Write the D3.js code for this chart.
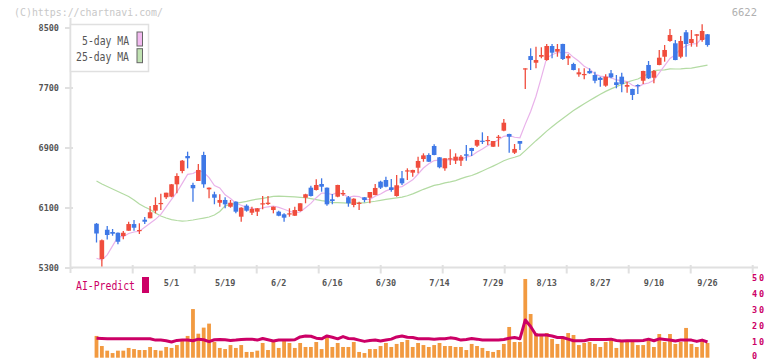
<!DOCTYPE html>
<html>
<head>
<meta charset="utf-8">
<script src="https://cdn.jsdelivr.net/npm/d3@7/dist/d3.min.js"></script>
<style>
body { margin: 0; background: #fff; }
svg { display: block; }
text { font-family: "DejaVu Sans Mono", monospace; }
</style>
</head>
<body>
<div id="chart"></div>
<script>
// ----------------------- daily prices (one entry per trading day)
var opens = [5890,5420,5810,5780,5770,5726,5797,5886,5793,5944,
  5963,6064,6153,6243,6251,6416,6593,6793,6407,6460,
  6807,6349,6283,6170,6207,6117,6184,5984,6131,6037,
  6051,6149,6153,6073,6051,6016,6016,5997,6060,6237,
  6371,6340,6420,6371,6216,6251,6283,6243,6140,6157,
  6243,6237,6273,6451,6473,6376,6260,6496,6589,6571,
  6637,6753,6807,6927,6776,6629,6749,6731,6731,6816,
  6900,6931,6997,6997,6917,7043,7131,7087,6837,6993,
  7955,8126,8037,8117,8073,8260,8184,8287,8096,8020,
  7882,7873,7927,7873,7837,7731,7896,7776,7851,7717,
  7687,7740,7797,8007,7837,8007,8117,8327,8296,8117,
  8443,8300,8397,8340,8416];
var highs = [5900,5680,5860,5820,5775,5793,5917,5940,5896,5980,
  6127,6243,6291,6304,6420,6562,6740,6851,6437,6687,
  6851,6375,6317,6283,6243,6207,6190,6110,6149,6117,
  6100,6260,6260,6120,6064,6029,6096,6117,6165,6290,
  6397,6483,6496,6375,6287,6410,6340,6260,6230,6184,
  6245,6315,6420,6464,6517,6487,6540,6593,6629,6610,
  6784,6829,6829,6949,6780,6765,6883,6829,6807,6940,
  6905,7010,7109,7060,6995,7073,7287,7090,6953,6995,
  7965,8229,8251,8243,8287,8287,8287,8290,8149,8037,
  7962,7962,7962,7917,7851,7882,7940,7873,7904,7784,
  7690,7749,7930,8060,7940,8207,8273,8487,8340,8393,
  8473,8473,8420,8549,8420];
var lows = [5640,5320,5680,5730,5616,5683,5797,5797,5753,5886,
  5963,6029,6073,6220,6243,6296,6562,6629,6184,6460,
  6371,6229,6150,6117,6096,6104,6029,5917,6051,6007,
  5993,6083,6140,6029,5990,5917,5984,5993,6055,6163,
  6255,6335,6317,6131,6149,6245,6260,6117,6110,6073,
  6176,6163,6270,6353,6376,6317,6251,6407,6473,6517,
  6562,6717,6715,6805,6629,6597,6673,6687,6660,6730,
  6793,6913,6953,6940,6913,6917,7125,6837,6820,6873,
  7687,7940,7962,8096,8064,8096,8117,8073,8007,7935,
  7851,7816,7890,7763,7717,7717,7829,7696,7642,7637,
  7540,7620,7753,7820,7763,8005,8051,8317,8070,8096,
  8117,8251,8251,8317,8251];
var closes = [5760,5670,5740,5757,5650,5770,5886,5837,5807,5917,
  6043,6140,6167,6304,6416,6527,6731,6763,6363,6607,
  6416,6371,6237,6207,6149,6170,6051,6104,6064,6087,
  6096,6163,6171,6117,5997,5971,6029,6073,6163,6283,
  6260,6407,6384,6149,6193,6407,6300,6163,6224,6170,
  6207,6313,6367,6371,6384,6340,6403,6429,6602,6607,
  6727,6802,6717,6807,6643,6763,6763,6784,6784,6797,
  6860,7007,6989,7007,6993,7050,7237,7050,6887,6957,
  7962,8073,8073,8140,8260,8171,8220,8087,8126,7940,
  7909,7887,7896,7797,7807,7851,7843,7740,7753,7740,
  7607,7727,7927,7829,7927,8104,8207,8407,8073,8327,
  8287,8353,8416,8460,8273];

// moving averages before a full window exists
var ma5Head = [5430,5405,5475,5595];
var ma25Head = [6460,6420,6386,6353,6320,6286,6253,6206,6153,6113,
  6080,6033,5993,5966,5946,5933,5926,5930,5940,5953,
  5966,5980,6006,6053];

// volume (right axis) and AI-Predict line
var volumes = [13.6,7.3,4.4,2.9,4.4,4.4,6.1,5.4,4.8,4.8,
  6.7,4.8,4.4,6.7,6.1,7.9,10.4,13.6,30.4,15.0,
  18.8,21.3,9.8,6.1,5.4,7.9,6.1,7.9,3.6,3.6,
  4.4,9.2,4.8,9.8,6.1,10.4,9.2,6.1,9.2,6.7,
  6.7,9.8,5.4,12.9,6.7,9.2,6.7,6.7,9.8,3.6,
  2.9,5.4,5.4,7.3,9.2,6.7,8.6,9.8,11.1,6.7,
  9.2,7.9,6.7,7.9,9.2,7.3,7.3,6.7,6.7,4.8,
  8.6,7.3,6.1,4.2,3.6,4.8,8.6,19.2,9.8,9.8,
  49.2,27.3,15.4,13.6,15.4,11.7,8.6,11.7,15.4,14.2,
  7.9,9.2,9.8,8.6,6.7,9.8,11.1,6.1,11.1,11.1,
  9.8,7.9,7.9,11.1,6.7,14.8,9.8,14.8,8.6,9.8,
  18.6,8.6,6.7,10.4,9.2];
var aiPredict = [12.2,12.0,11.8,11.8,11.8,11.8,11.8,11.8,11.8,11.8,
  11.8,11.0,11.0,10.6,9.8,10.8,11.0,11.0,10.6,11.6,
  11.2,10.0,11.2,11.4,11.2,10.8,11.0,11.4,11.6,11.6,
  11.0,12.0,11.2,10.4,11.0,11.0,11.0,11.2,13.0,13.6,
  13.4,12.2,11.8,13.6,12.8,11.8,13.2,12.0,11.8,11.0,
  10.2,10.8,11.0,10.4,11.0,11.6,13.0,13.6,12.8,12.6,
  11.8,11.8,11.8,11.6,11.8,11.8,12.4,12.0,11.0,11.4,
  12.0,11.6,11.0,11.0,11.0,11.0,11.4,12.2,12.6,11.8,
  23.6,19.5,14.2,14.2,14.2,13.6,12.6,12.6,11.6,10.6,
  10.6,10.6,11.4,11.4,11.4,11.4,11.6,10.8,10.4,10.6,
  10.6,10.6,10.8,11.6,10.6,11.8,11.4,11.0,10.4,11.0,
  11.0,11.0,10.2,11.0,9.8];

// tick labels
var dateLabels = ["5/1","5/19","6/2","6/16","6/30","7/14","7/29","8/13","8/27","9/10","9/26"];
var dateLabelIdx = [14,24,34,44,54,64,74,84,94,104,114];
var priceTicks = [5300,6100,6900,7700,8500];
var volTicks = [0,10,20,30,40,50];

// ----------------------- derived series
function movingAvg(values, n, head) {
    return values.map(function(v, i) {
        if (i < n - 1) return head[i];
        return d3.mean(values.slice(i - n + 1, i + 1));
    });
}
var ma5 = movingAvg(closes, 5, ma5Head);
var ma25 = movingAvg(closes, 25, ma25Head);

var candles = closes.map(function(c, i) {
    return {i: i, o: opens[i], h: highs[i], l: lows[i], c: c, v: volumes[i], p: aiPredict[i]};
});

// ----------------------- drawing
var W = 772, H = 361;
var svg = d3.select('#chart').append('svg').attr('width', W).attr('height', H);

var x = d3.scaleLinear().domain([0, candles.length - 1]).range([96.5, 707.5]);
var y = d3.scaleLinear().domain([5300, 8500]).range([268, 28]);
var yv = d3.scaleLinear().domain([0, 50]).range([357.7, 277.7]);
var grid = d3.scaleLinear().domain([0, 10]).range([132.7, 752.7]);

var axisColor = '#e0e0e0';
var textColor = '#555';
var up = '#f04d3d', down = '#3e78e6';
var magenta = '#cc0066';

// header texts
svg.append('text').attr('x', 14).attr('y', 16)
    .attr('font-size', 10.5).attr('fill', '#c8c8c8')
    .attr('textLength', 149).attr('lengthAdjust', 'spacingAndGlyphs')
    .text('(C)https://chartnavi.com/');
svg.append('text').attr('x', 757).attr('y', 16)
    .attr('font-size', 10.5).attr('fill', '#b0b0b0').attr('text-anchor', 'end')
    .text('6622');

// axes
svg.append('line').attr('x1', 70.5).attr('x2', 70.5).attr('y1', 18).attr('y2', 273)
    .attr('stroke', axisColor).attr('stroke-width', 2);
svg.append('line').attr('x1', 70).attr('x2', 758).attr('y1', 267.5).attr('y2', 267.5)
    .attr('stroke', axisColor).attr('stroke-width', 2);

svg.selectAll('.gridtick').data(d3.range(11)).enter().append('line')
    .attr('x1', function(d) { return grid(d); }).attr('x2', function(d) { return grid(d); })
    .attr('y1', 265).attr('y2', 273.5)
    .attr('stroke', axisColor).attr('stroke-width', 2);

var yt = svg.selectAll('.ytick').data(priceTicks).enter().append('g');
yt.append('line').attr('x1', 65).attr('x2', 73)
    .attr('y1', function(d) { return y(d); }).attr('y2', function(d) { return y(d); })
    .attr('stroke', axisColor).attr('stroke-width', 2);
yt.append('text').attr('x', 59).attr('y', function(d) { return y(d) + 3; })
    .attr('text-anchor', 'end').attr('font-size', 8.5).attr('fill', textColor)
    .attr('font-weight', 'bold')
    .text(function(d) { return d; });

svg.selectAll('.xlab').data(dateLabels).enter().append('text')
    .attr('x', function(d, k) { return x(dateLabelIdx[k]); })
    .attr('y', 285.5)
    .attr('text-anchor', 'middle').attr('font-size', 8.5).attr('fill', textColor)
    .attr('font-weight', 'bold')
    .text(function(d) { return d; });

// volume bars
svg.append('g').selectAll('rect').data(candles).enter().append('rect')
    .attr('x', function(d) { return x(d.i) - 1.9; })
    .attr('width', 3.8)
    .attr('y', function(d) { return yv(d.v); })
    .attr('height', function(d) { return yv(0) - yv(d.v); })
    .attr('fill', '#f29a40');

// AI-Predict line
svg.append('path').datum(candles)
    .attr('d', d3.line().x(function(d) { return x(d.i); }).y(function(d) { return yv(d.p); }))
    .attr('fill', 'none').attr('stroke', magenta).attr('stroke-width', 3)
    .attr('stroke-linejoin', 'round');

svg.selectAll('.vtick').data(volTicks).enter().append('text')
    .attr('x', 752).attr('y', function(d) { return Math.min(yv(d) + 3, 359); })
    .attr('font-size', 8.5).attr('font-weight', 'bold').attr('fill', magenta)
    .attr('letter-spacing', 2)
    .text(function(d) { return d; });

svg.append('text').attr('x', 76).attr('y', 290)
    .attr('font-size', 12).attr('fill', magenta)
    .attr('textLength', 59).attr('lengthAdjust', 'spacingAndGlyphs')
    .text('AI-Predict');
svg.append('rect').attr('x', 142).attr('y', 277).attr('width', 7).attr('height', 16)
    .attr('fill', magenta);

// moving averages
var maLine = function(arr) {
    return d3.line().x(function(d, i) { return x(i); }).y(function(d) { return y(d); })(arr);
};
svg.append('path').attr('d', maLine(ma25))
    .attr('fill', 'none').attr('stroke', '#b3dba3').attr('stroke-width', 1.2);
svg.append('path').attr('d', maLine(ma5))
    .attr('fill', 'none').attr('stroke', '#e9b2ea').attr('stroke-width', 1.2);

// candles
var cg = svg.append('g').selectAll('g').data(candles).enter().append('g');
cg.append('line')
    .attr('x1', function(d) { return x(d.i); }).attr('x2', function(d) { return x(d.i); })
    .attr('y1', function(d) { return y(d.h); }).attr('y2', function(d) { return y(d.l); })
    .attr('stroke', function(d) { return d.c >= d.o ? up : down; })
    .attr('stroke-width', 1.3);
cg.append('rect')
    .attr('x', function(d) { return x(d.i) - 2.3; })
    .attr('width', 4.6)
    .attr('y', function(d) { return y(Math.max(d.o, d.c)); })
    .attr('height', function(d) { return Math.max(1.2, Math.abs(y(d.o) - y(d.c))); })
    .attr('fill', function(d) { return d.c >= d.o ? up : down; });

// legend
var lg = svg.append('g');
lg.append('rect').attr('x', 70.5).attr('y', 24.5).attr('width', 78).attr('height', 47)
    .attr('fill', '#fff').attr('stroke', '#e0e0e0').attr('stroke-width', 1.5);
var legendItems = [{t: '5-day MA', c: '#f2baf0', w: 47}, {t: '25-day MA', c: '#c0e2b2', w: 53}];
legendItems.forEach(function(it, k) {
    lg.append('text').attr('x', 129).attr('y', 45 + k * 16.3)
        .attr('text-anchor', 'end').attr('font-size', 12).attr('fill', textColor)
        .attr('textLength', it.w).attr('lengthAdjust', 'spacingAndGlyphs')
        .text(it.t);
    lg.append('rect').attr('x', 137).attr('y', 32 + k * 16.7).attr('width', 5.5).attr('height', 14)
        .attr('fill', it.c).attr('stroke', '#666').attr('stroke-width', 1);
});
</script>
</body>
</html>
